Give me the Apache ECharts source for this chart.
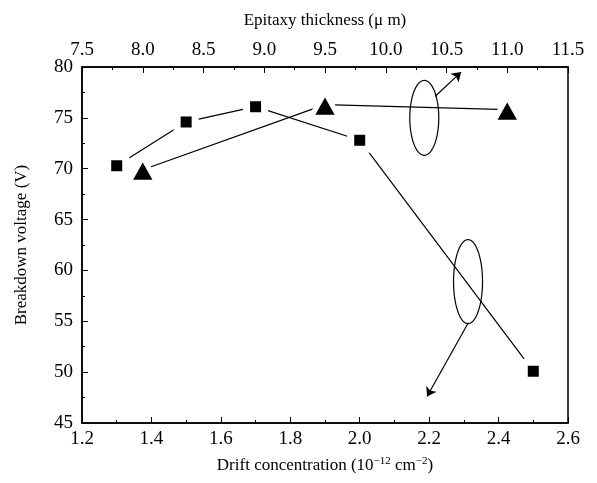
<!DOCTYPE html>
<html>
<head>
<meta charset="utf-8">
<script src="https://cdn.jsdelivr.net/npm/echarts@6/dist/echarts.min.js"></script>
<style>
  html, body { margin: 0; padding: 0; background: #fff; }
  #visualisation { width: 597px; height: 483px; }
</style>
</head>
<body>
<div id="visualisation"></div>
<script>
// Data
const driftConc = [1.3, 1.5, 1.7, 2.0, 2.5];          // bottom axis (10^-12 cm^-2)
const bvDrift = [70.3, 74.6, 76.1, 72.8, 50.1];        // squares
const epiThick = [8.0, 9.5, 11.0];                     // top axis (um)
const bvEpi = [69.9, 76.3, 75.8];                      // triangles

// annotations (in bottom-axis data units)
const ellipseCenters = [[2.186, 75.0], [2.312, 58.9]];
const arrowSegments = [
    [[2.217, 77.1], [2.292, 79.5]],
    [[2.312, 54.8], [2.194, 47.6]]
];

function drawVisualisation() {
    let visualisation = echarts.init(document.getElementById('visualisation'));

    const font = 'Liberation Serif';
    const axisCommon = {
        type: 'value',
        splitLine: { show: false },
        axisLine: { show: true, onZero: false, lineStyle: { color: '#000', width: 1.5 } },
        axisTick: { show: true, inside: true, length: 6, lineStyle: { color: '#000', width: 1 } },
        minorTick: { show: true, splitNumber: 2, length: 3, lineStyle: { color: '#000', width: 1 } },
        axisLabel: { color: '#000', fontFamily: font, fontSize: 19, margin: 7, formatter: v => v.toFixed(1) },
        nameLocation: 'middle',
        nameTextStyle: { color: '#000', fontFamily: font, fontSize: 17 }
    };

    let option = {
        animation: false,
        backgroundColor: '#fff',
        grid: { left: 82, right: 29, top: 67, bottom: 60, show: true, borderColor: '#000', borderWidth: 1.5 },
        xAxis: [
            Object.assign({}, axisCommon, {
                position: 'bottom', min: 1.2, max: 2.6, interval: 0.2,
                name: '{a|Drift concentration (10}{s|−12}{a| cm}{s|−2}{a|)}',
                nameGap: 33,
                nameTextStyle: {
                    rich: {
                        a: { fontFamily: font, fontSize: 17, color: '#000', lineHeight: 20 },
                        s: { fontFamily: font, fontSize: 11, color: '#000', verticalAlign: 'top', lineHeight: 20, padding: [0, 0, 8, 0] }
                    }
                }
            }),
            Object.assign({}, axisCommon, {
                position: 'top', min: 7.5, max: 11.5, interval: 0.5,
                name: 'Epitaxy thickness (μ m)',
                nameGap: 38
            })
        ],
        yAxis: [
            Object.assign({}, axisCommon, {
                position: 'left', min: 45, max: 80, interval: 5,
                axisLabel: { color: '#000', fontFamily: font, fontSize: 19, margin: 9 },
                name: 'Breakdown voltage (V)',
                nameGap: 52
            })
        ],
        series: [
            {
                type: 'line',
                xAxisIndex: 0,
                data: driftConc.map((x, i) => [x, bvDrift[i]]),
                symbol: 'rect',
                symbolSize: 18,
                lineStyle: { color: '#000', width: 1.2 },
                itemStyle: { color: '#000', borderColor: '#fff', borderWidth: 7 },
                z: 3
            },
            {
                type: 'line',
                xAxisIndex: 1,
                data: epiThick.map((x, i) => [x, bvEpi[i]]),
                symbol: 'triangle',
                symbolSize: [28, 25],
                lineStyle: { color: '#000', width: 1.2 },
                itemStyle: { color: '#000', borderColor: '#fff', borderWidth: 5 },
                z: 3
            },
            {
                type: 'lines',
                coordinateSystem: 'cartesian2d',
                xAxisIndex: 0,
                symbol: ['none', 'arrow'],
                symbolSize: 9,
                lineStyle: { color: '#000', width: 1.2, opacity: 1 },
                data: arrowSegments.map(seg => ({ coords: seg })),
                z: 2
            },
            {
                type: 'custom',
                xAxisIndex: 0,
                data: ellipseCenters,
                renderItem: function (params, api) {
                    const c = api.coord([api.value(0), api.value(1)]);
                    const rx = 14.5, ry = params.dataIndex === 0 ? 37.5 : 42;
                    const pts = [];
                    for (let k = 0; k < 72; k++) {
                        const t = k / 72 * Math.PI * 2;
                        pts.push([c[0] + rx * Math.cos(t), c[1] + ry * Math.sin(t)]);
                    }
                    return {
                        type: 'polygon',
                        shape: { points: pts },
                        style: { fill: 'none', stroke: '#000', lineWidth: 1.2 }
                    };
                },
                z: 2
            }
        ]
    };

    visualisation.setOption(option);
}

window.addEventListener('load', drawVisualisation);
</script>
</body>
</html>
